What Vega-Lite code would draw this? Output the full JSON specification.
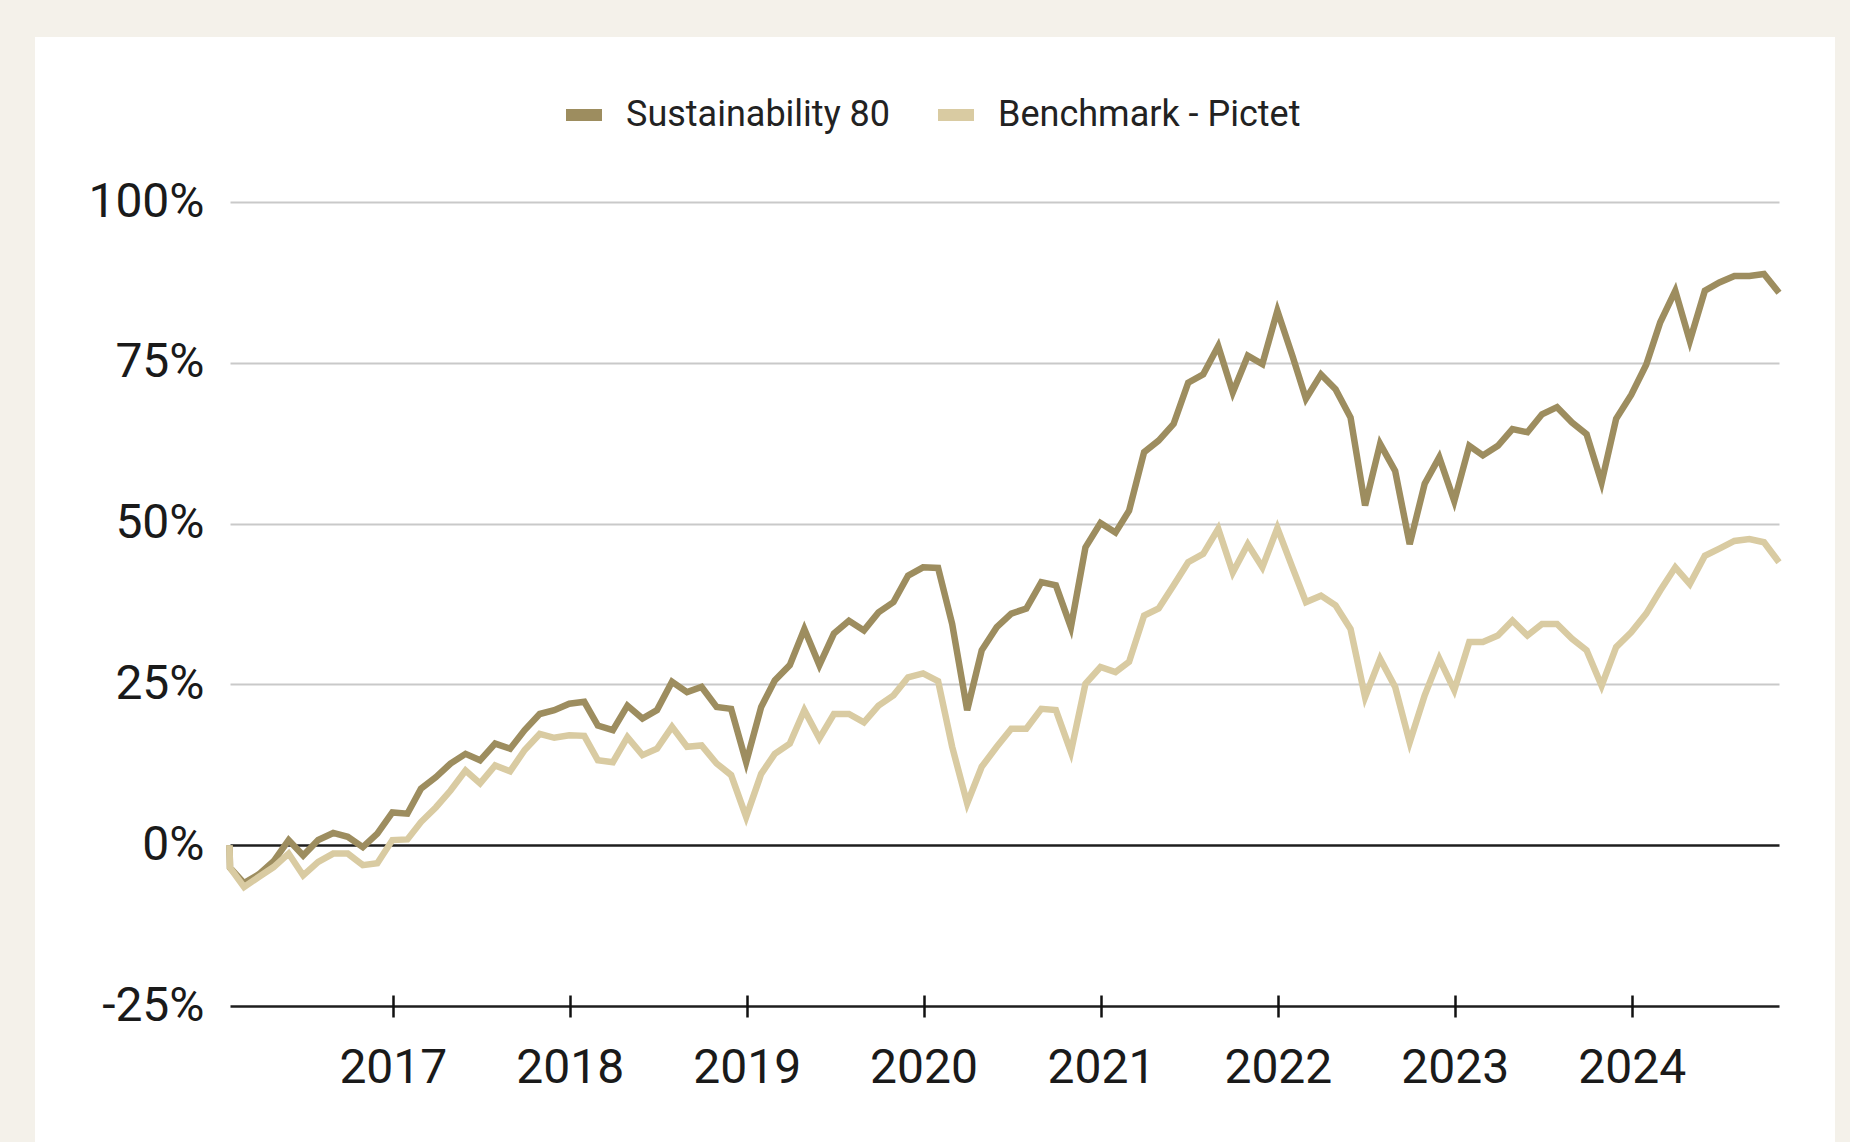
{
  "$schema": "https://vega.github.io/schema/vega-lite/v6.json",
  "autosize": {"type": "none"},
  "width": 1800,
  "height": 1105,
  "padding": {"left": 35, "top": 37, "right": 15, "bottom": 0},
  "background": "#f4f1ea",
  "config": {"view": {"fill": "#ffffff", "stroke": null}, "font": "Roboto"},
  "data": {"values": [
    {"date": "2016-01-30", "Sustainability 80": 0, "Benchmark - Pictet": 0},
    {"date": "2016-01-31", "Sustainability 80": -3.5, "Benchmark - Pictet": -3.5},
    {"date": "2016-02-29", "Sustainability 80": -5.9, "Benchmark - Pictet": -6.5},
    {"date": "2016-03-31", "Sustainability 80": -4.5, "Benchmark - Pictet": -4.9},
    {"date": "2016-04-30", "Sustainability 80": -2.5, "Benchmark - Pictet": -3.4},
    {"date": "2016-05-31", "Sustainability 80": 0.8, "Benchmark - Pictet": -1.3},
    {"date": "2016-06-30", "Sustainability 80": -1.6, "Benchmark - Pictet": -4.7},
    {"date": "2016-07-31", "Sustainability 80": 0.8, "Benchmark - Pictet": -2.6},
    {"date": "2016-08-31", "Sustainability 80": 1.9, "Benchmark - Pictet": -1.3},
    {"date": "2016-09-30", "Sustainability 80": 1.3, "Benchmark - Pictet": -1.3},
    {"date": "2016-10-31", "Sustainability 80": -0.3, "Benchmark - Pictet": -3.1},
    {"date": "2016-11-30", "Sustainability 80": 1.8, "Benchmark - Pictet": -2.8},
    {"date": "2016-12-31", "Sustainability 80": 5.1, "Benchmark - Pictet": 0.8},
    {"date": "2017-01-31", "Sustainability 80": 4.9, "Benchmark - Pictet": 0.9},
    {"date": "2017-02-28", "Sustainability 80": 8.8, "Benchmark - Pictet": 3.6},
    {"date": "2017-03-31", "Sustainability 80": 10.6, "Benchmark - Pictet": 5.9},
    {"date": "2017-04-30", "Sustainability 80": 12.7, "Benchmark - Pictet": 8.5},
    {"date": "2017-05-31", "Sustainability 80": 14.2, "Benchmark - Pictet": 11.6},
    {"date": "2017-06-30", "Sustainability 80": 13.2, "Benchmark - Pictet": 9.6},
    {"date": "2017-07-31", "Sustainability 80": 15.8, "Benchmark - Pictet": 12.4},
    {"date": "2017-08-31", "Sustainability 80": 15.0, "Benchmark - Pictet": 11.5},
    {"date": "2017-09-30", "Sustainability 80": 17.9, "Benchmark - Pictet": 14.8},
    {"date": "2017-10-31", "Sustainability 80": 20.4, "Benchmark - Pictet": 17.3},
    {"date": "2017-11-30", "Sustainability 80": 21.0, "Benchmark - Pictet": 16.7},
    {"date": "2017-12-31", "Sustainability 80": 22.0, "Benchmark - Pictet": 17.1},
    {"date": "2018-01-31", "Sustainability 80": 22.3, "Benchmark - Pictet": 17.0},
    {"date": "2018-02-28", "Sustainability 80": 18.6, "Benchmark - Pictet": 13.2},
    {"date": "2018-03-31", "Sustainability 80": 17.9, "Benchmark - Pictet": 12.9},
    {"date": "2018-04-30", "Sustainability 80": 21.7, "Benchmark - Pictet": 16.8},
    {"date": "2018-05-31", "Sustainability 80": 19.7, "Benchmark - Pictet": 14.0},
    {"date": "2018-06-30", "Sustainability 80": 21.0, "Benchmark - Pictet": 15.0},
    {"date": "2018-07-31", "Sustainability 80": 25.4, "Benchmark - Pictet": 18.4},
    {"date": "2018-08-31", "Sustainability 80": 23.8, "Benchmark - Pictet": 15.3},
    {"date": "2018-09-30", "Sustainability 80": 24.6, "Benchmark - Pictet": 15.5},
    {"date": "2018-10-31", "Sustainability 80": 21.5, "Benchmark - Pictet": 12.7},
    {"date": "2018-11-30", "Sustainability 80": 21.2, "Benchmark - Pictet": 10.9},
    {"date": "2018-12-31", "Sustainability 80": 12.9, "Benchmark - Pictet": 4.4},
    {"date": "2019-01-31", "Sustainability 80": 21.5, "Benchmark - Pictet": 11.1},
    {"date": "2019-02-28", "Sustainability 80": 25.6, "Benchmark - Pictet": 14.2},
    {"date": "2019-03-31", "Sustainability 80": 28.0, "Benchmark - Pictet": 15.8},
    {"date": "2019-04-30", "Sustainability 80": 33.6, "Benchmark - Pictet": 21.0},
    {"date": "2019-05-31", "Sustainability 80": 28.0, "Benchmark - Pictet": 16.6},
    {"date": "2019-06-30", "Sustainability 80": 32.9, "Benchmark - Pictet": 20.4},
    {"date": "2019-07-31", "Sustainability 80": 34.9, "Benchmark - Pictet": 20.4},
    {"date": "2019-08-31", "Sustainability 80": 33.4, "Benchmark - Pictet": 19.1},
    {"date": "2019-09-30", "Sustainability 80": 36.2, "Benchmark - Pictet": 21.7},
    {"date": "2019-10-31", "Sustainability 80": 37.8, "Benchmark - Pictet": 23.3},
    {"date": "2019-11-30", "Sustainability 80": 41.9, "Benchmark - Pictet": 26.1},
    {"date": "2019-12-31", "Sustainability 80": 43.2, "Benchmark - Pictet": 26.7},
    {"date": "2020-01-31", "Sustainability 80": 43.1, "Benchmark - Pictet": 25.5},
    {"date": "2020-02-29", "Sustainability 80": 34.4, "Benchmark - Pictet": 15.3},
    {"date": "2020-03-31", "Sustainability 80": 21.0, "Benchmark - Pictet": 6.5},
    {"date": "2020-04-30", "Sustainability 80": 30.3, "Benchmark - Pictet": 12.2},
    {"date": "2020-05-31", "Sustainability 80": 33.9, "Benchmark - Pictet": 15.3},
    {"date": "2020-06-30", "Sustainability 80": 36.0, "Benchmark - Pictet": 18.1},
    {"date": "2020-07-31", "Sustainability 80": 36.8, "Benchmark - Pictet": 18.1},
    {"date": "2020-08-31", "Sustainability 80": 40.9, "Benchmark - Pictet": 21.2},
    {"date": "2020-09-30", "Sustainability 80": 40.4, "Benchmark - Pictet": 21.0},
    {"date": "2020-10-31", "Sustainability 80": 33.9, "Benchmark - Pictet": 14.5},
    {"date": "2020-11-30", "Sustainability 80": 46.3, "Benchmark - Pictet": 25.1},
    {"date": "2020-12-31", "Sustainability 80": 50.1, "Benchmark - Pictet": 27.7},
    {"date": "2021-01-31", "Sustainability 80": 48.6, "Benchmark - Pictet": 26.9},
    {"date": "2021-02-28", "Sustainability 80": 52.0, "Benchmark - Pictet": 28.5},
    {"date": "2021-03-31", "Sustainability 80": 61.1, "Benchmark - Pictet": 35.7},
    {"date": "2021-04-30", "Sustainability 80": 62.9, "Benchmark - Pictet": 36.8},
    {"date": "2021-05-31", "Sustainability 80": 65.5, "Benchmark - Pictet": 40.4},
    {"date": "2021-06-30", "Sustainability 80": 71.9, "Benchmark - Pictet": 44.0},
    {"date": "2021-07-31", "Sustainability 80": 73.2, "Benchmark - Pictet": 45.3},
    {"date": "2021-08-31", "Sustainability 80": 77.6, "Benchmark - Pictet": 49.2},
    {"date": "2021-09-30", "Sustainability 80": 70.4, "Benchmark - Pictet": 42.4},
    {"date": "2021-10-31", "Sustainability 80": 76.1, "Benchmark - Pictet": 46.8},
    {"date": "2021-11-30", "Sustainability 80": 74.8, "Benchmark - Pictet": 43.2},
    {"date": "2021-12-31", "Sustainability 80": 83.1, "Benchmark - Pictet": 49.3},
    {"date": "2022-01-31", "Sustainability 80": 76.1, "Benchmark - Pictet": 43.2},
    {"date": "2022-02-28", "Sustainability 80": 69.4, "Benchmark - Pictet": 37.8},
    {"date": "2022-03-31", "Sustainability 80": 73.2, "Benchmark - Pictet": 38.8},
    {"date": "2022-04-30", "Sustainability 80": 70.9, "Benchmark - Pictet": 37.3},
    {"date": "2022-05-31", "Sustainability 80": 66.5, "Benchmark - Pictet": 33.6},
    {"date": "2022-06-30", "Sustainability 80": 52.8, "Benchmark - Pictet": 23.0},
    {"date": "2022-07-31", "Sustainability 80": 62.4, "Benchmark - Pictet": 29.0},
    {"date": "2022-08-31", "Sustainability 80": 58.2, "Benchmark - Pictet": 24.6},
    {"date": "2022-09-30", "Sustainability 80": 46.8, "Benchmark - Pictet": 16.0},
    {"date": "2022-10-31", "Sustainability 80": 56.2, "Benchmark - Pictet": 23.3},
    {"date": "2022-11-30", "Sustainability 80": 60.3, "Benchmark - Pictet": 29.0},
    {"date": "2022-12-31", "Sustainability 80": 53.5, "Benchmark - Pictet": 24.1},
    {"date": "2023-01-31", "Sustainability 80": 62.1, "Benchmark - Pictet": 31.6},
    {"date": "2023-02-28", "Sustainability 80": 60.6, "Benchmark - Pictet": 31.6},
    {"date": "2023-03-31", "Sustainability 80": 62.1, "Benchmark - Pictet": 32.6},
    {"date": "2023-04-30", "Sustainability 80": 64.7, "Benchmark - Pictet": 34.9},
    {"date": "2023-05-31", "Sustainability 80": 64.2, "Benchmark - Pictet": 32.6},
    {"date": "2023-06-30", "Sustainability 80": 67.0, "Benchmark - Pictet": 34.4},
    {"date": "2023-07-31", "Sustainability 80": 68.1, "Benchmark - Pictet": 34.4},
    {"date": "2023-08-31", "Sustainability 80": 65.7, "Benchmark - Pictet": 32.1},
    {"date": "2023-09-30", "Sustainability 80": 63.9, "Benchmark - Pictet": 30.3},
    {"date": "2023-10-31", "Sustainability 80": 56.4, "Benchmark - Pictet": 24.8},
    {"date": "2023-11-30", "Sustainability 80": 66.3, "Benchmark - Pictet": 30.8},
    {"date": "2023-12-31", "Sustainability 80": 70.0, "Benchmark - Pictet": 33.1},
    {"date": "2024-01-31", "Sustainability 80": 74.7, "Benchmark - Pictet": 36.0},
    {"date": "2024-02-29", "Sustainability 80": 81.3, "Benchmark - Pictet": 39.6},
    {"date": "2024-03-31", "Sustainability 80": 86.2, "Benchmark - Pictet": 43.2},
    {"date": "2024-04-30", "Sustainability 80": 78.4, "Benchmark - Pictet": 40.6},
    {"date": "2024-05-31", "Sustainability 80": 86.2, "Benchmark - Pictet": 45.0},
    {"date": "2024-06-30", "Sustainability 80": 87.5, "Benchmark - Pictet": 46.1},
    {"date": "2024-07-31", "Sustainability 80": 88.5, "Benchmark - Pictet": 47.3},
    {"date": "2024-08-31", "Sustainability 80": 88.5, "Benchmark - Pictet": 47.6},
    {"date": "2024-09-30", "Sustainability 80": 88.8, "Benchmark - Pictet": 47.1},
    {"date": "2024-10-31", "Sustainability 80": 85.9, "Benchmark - Pictet": 44.0}
  ]},
  "transform": [{"fold": ["Sustainability 80", "Benchmark - Pictet"], "as": ["series", "value"]}],
  "mark": {"type": "line", "strokeWidth": 6.5, "clip": false},
  "encoding": {
    "x": {
      "field": "date", "type": "temporal",
      "scale": {"domain": [{"year": 2016, "month": 1, "date": 31, "utc": true}, {"year": 2024, "month": 10, "date": 31, "utc": true}], "range": [195, 1744], "nice": false},
      "axis": {"title": null, "orient": "bottom", "offset": -147, "domain": false, "ticks": true, "tickSize": 22, "tickWidth": 2.5, "tickColor": "#111111", "grid": false, "format": "%Y", "tickCount": {"interval": "year", "step": 1}, "labelFont": "Roboto", "labelFontSize": 48, "labelColor": "#1a1a1a", "labelPadding": 27, "labelFlush": false, "labelOverlap": false}
    },
    "y": {
      "field": "value", "type": "quantitative",
      "scale": {"domain": [-25, 100], "range": [969, 165], "nice": false, "zero": false},
      "axis": {"title": null, "orient": "left", "offset": -195, "domain": false, "ticks": false, "tickSize": 0, "values": [-25, 0, 25, 50, 75, 100], "labelExpr": "datum.value + '%'", "labelFont": "Roboto", "labelFontSize": 48, "labelColor": "#1a1a1a", "labelPadding": 26, "labelOverlap": false, "grid": true, "gridColor": {"condition": {"test": "datum.value <= 0", "value": "#1e1e1e"}, "value": "#c9c9c9"}, "gridWidth": {"condition": {"test": "datum.value <= 0", "value": 2.5}, "value": 2}}
    },
    "color": {
      "field": "series", "type": "nominal",
      "scale": {"domain": ["Sustainability 80", "Benchmark - Pictet"], "range": ["#9d8d5f", "#d9cba2"]},
      "legend": {"title": null, "orient": "none", "legendX": 525, "legendY": 54, "direction": "horizontal", "symbolType": "stroke", "symbolSize": 1296, "symbolStrokeWidth": 12, "labelFont": "Roboto", "labelFontSize": 36, "labelColor": "#222222", "labelOffset": 18, "labelLimit": 1000, "columnPadding": 23, "padding": 0}
    }
  }
}
